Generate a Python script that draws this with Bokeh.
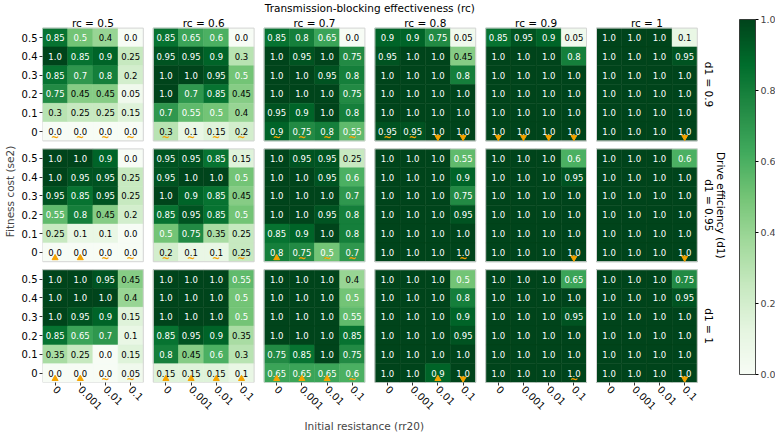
import numpy as np
from bokeh.plotting import figure
from bokeh.models import (ColumnDataSource, LinearColorMapper, ColorBar, FixedTicker,
                          PrintfTickFormatter, Title, Range1d)
from bokeh.core.properties import value
from bokeh.embed import file_html
from bokeh.resources import INLINE

# ---------------- data ----------------
rc_labels = ["rc = 0.5", "rc = 0.6", "rc = 0.7", "rc = 0.8", "rc = 0.9", "rc = 1"]
d1_labels = ["d1 = 0.9", "d1 = 0.95", "d1 = 1"]
se2_labels = ["0.5", "0.4", "0.3", "0.2", "0.1", "0"]          # rows, top to bottom
rr20_labels = ["0", "0.001", "0.01", "0.1"]                     # columns

# d1 = 0.9
d090_rc05 = [[0.85, 0.5, 0.4, 0.0], [1.0, 0.85, 0.9, 0.25], [0.85, 0.7, 0.8, 0.2],
             [0.75, 0.45, 0.45, 0.05], [0.3, 0.25, 0.25, 0.15], [0.0, 0.0, 0.0, 0.0]]
d090_rc06 = [[0.85, 0.65, 0.6, 0.0], [0.95, 0.95, 0.9, 0.3], [1.0, 1.0, 0.95, 0.5],
             [1.0, 0.7, 0.85, 0.45], [0.7, 0.55, 0.5, 0.4], [0.3, 0.1, 0.15, 0.2]]
d090_rc07 = [[0.85, 0.8, 0.65, 0.0], [1.0, 0.95, 1.0, 0.75], [1.0, 1.0, 0.95, 0.8],
             [1.0, 1.0, 1.0, 0.75], [0.95, 0.9, 1.0, 0.8], [0.9, 0.75, 0.8, 0.55]]
d090_rc08 = [[0.9, 0.9, 0.75, 0.05], [0.95, 1.0, 1.0, 0.45], [1.0, 1.0, 1.0, 0.8],
             [1.0, 1.0, 1.0, 1.0], [1.0, 1.0, 1.0, 1.0], [0.95, 0.95, 1.0, 1.0]]
d090_rc09 = [[0.85, 0.95, 0.9, 0.05], [1.0, 1.0, 1.0, 0.8], [1.0, 1.0, 1.0, 1.0],
             [1.0, 1.0, 1.0, 1.0], [1.0, 1.0, 1.0, 1.0], [1.0, 1.0, 1.0, 1.0]]
d090_rc10 = [[1.0, 1.0, 1.0, 0.1], [1.0, 1.0, 1.0, 0.95], [1.0, 1.0, 1.0, 1.0],
             [1.0, 1.0, 1.0, 1.0], [1.0, 1.0, 1.0, 1.0], [1.0, 1.0, 1.0, 1.0]]
# d1 = 0.95
d095_rc05 = [[1.0, 1.0, 0.9, 0.0], [1.0, 0.95, 0.95, 0.25], [0.95, 0.85, 0.95, 0.25],
             [0.55, 0.8, 0.45, 0.2], [0.25, 0.1, 0.1, 0.0], [0.0, 0.0, 0.0, 0.0]]
d095_rc06 = [[0.95, 0.95, 0.85, 0.15], [0.95, 1.0, 1.0, 0.5], [1.0, 0.9, 0.85, 0.45],
             [0.85, 0.95, 0.85, 0.5], [0.5, 0.75, 0.35, 0.25], [0.2, 0.1, 0.1, 0.25]]
d095_rc07 = [[1.0, 0.95, 0.95, 0.25], [1.0, 1.0, 0.95, 0.6], [1.0, 1.0, 1.0, 0.7],
             [1.0, 1.0, 0.95, 0.8], [0.85, 0.9, 1.0, 0.8], [0.8, 0.75, 0.5, 0.7]]
d095_rc08 = [[1.0, 1.0, 1.0, 0.55], [1.0, 1.0, 1.0, 0.9], [1.0, 1.0, 1.0, 0.75],
             [1.0, 1.0, 1.0, 0.95], [1.0, 1.0, 1.0, 1.0], [1.0, 1.0, 1.0, 1.0]]
d095_rc09 = [[1.0, 1.0, 1.0, 0.6], [1.0, 1.0, 1.0, 0.95], [1.0, 1.0, 1.0, 1.0],
             [1.0, 1.0, 1.0, 1.0], [1.0, 1.0, 1.0, 1.0], [1.0, 1.0, 1.0, 1.0]]
d095_rc10 = [[1.0, 1.0, 1.0, 0.6], [1.0, 1.0, 1.0, 1.0], [1.0, 1.0, 1.0, 1.0],
             [1.0, 1.0, 1.0, 1.0], [1.0, 1.0, 1.0, 1.0], [1.0, 1.0, 1.0, 1.0]]
# d1 = 1
d100_rc05 = [[1.0, 1.0, 0.95, 0.45], [1.0, 1.0, 1.0, 0.4], [1.0, 0.95, 0.9, 0.15],
             [0.85, 0.65, 0.7, 0.1], [0.35, 0.25, 0.0, 0.15], [0.0, 0.0, 0.0, 0.05]]
d100_rc06 = [[1.0, 1.0, 1.0, 0.55], [1.0, 1.0, 1.0, 0.5], [1.0, 1.0, 1.0, 0.5],
             [0.85, 0.95, 0.9, 0.35], [0.8, 0.45, 0.6, 0.3], [0.15, 0.15, 0.15, 0.1]]
d100_rc07 = [[1.0, 1.0, 1.0, 0.4], [1.0, 1.0, 1.0, 0.5], [1.0, 1.0, 1.0, 0.55],
             [1.0, 1.0, 1.0, 0.85], [0.75, 0.85, 1.0, 0.75], [0.65, 0.65, 0.65, 0.6]]
d100_rc08 = [[1.0, 1.0, 1.0, 0.5], [1.0, 1.0, 1.0, 0.8], [1.0, 1.0, 1.0, 0.9],
             [1.0, 1.0, 1.0, 0.95], [1.0, 1.0, 1.0, 1.0], [1.0, 1.0, 0.9, 1.0]]
d100_rc09 = [[1.0, 1.0, 1.0, 0.65], [1.0, 1.0, 1.0, 1.0], [1.0, 1.0, 1.0, 0.95],
             [1.0, 1.0, 1.0, 1.0], [1.0, 1.0, 1.0, 1.0], [1.0, 1.0, 1.0, 1.0]]
d100_rc10 = [[1.0, 1.0, 1.0, 0.75], [1.0, 1.0, 1.0, 0.95], [1.0, 1.0, 1.0, 1.0],
             [1.0, 1.0, 1.0, 1.0], [1.0, 1.0, 1.0, 1.0], [1.0, 1.0, 1.0, 1.0]]

# markers on the se2 = 0 row: "^" up, "v" down, "~" tilde, "" none
marks_d090 = [["~", "~", "~", "~"], ["~", "~", "~", "~"], ["~", "~", "~", "~"],
              ["~", "~", "v", "v"], ["v", "v", "v", "v"], ["", "", "", "v"]]
marks_d095 = [["^", "^", "~", "~"], ["~", "~", "~", "~"], ["^", "~", "~", "~"],
              ["", "", "", "~"], ["", "", "", "v"], ["", "", "", "v"]]
marks_d100 = [["^", "^", "~", "~"], ["^", "^", "^", "^"], ["^", "^", "^", "~"],
              ["", "", "^", "v"], ["", "", "", "~"], ["", "", "", "v"]]

grids = [[d090_rc05, d090_rc06, d090_rc07, d090_rc08, d090_rc09, d090_rc10],
         [d095_rc05, d095_rc06, d095_rc07, d095_rc08, d095_rc09, d095_rc10],
         [d100_rc05, d100_rc06, d100_rc07, d100_rc08, d100_rc09, d100_rc10]]
marks = [marks_d090, marks_d095, marks_d100]

# ---------------- palette (matplotlib Greens) ----------------
GREENS9 = ["#f7fcf5", "#e5f5e0", "#c7e9c0", "#a1d99b", "#74c476",
           "#41ab5d", "#238b45", "#006d2c", "#00441b"]
rgb = np.array([[int(h[k:k + 2], 16) for k in (1, 3, 5)] for h in GREENS9], float)
pos = np.linspace(0, 1, len(GREENS9))
tt = np.linspace(0, 1, 256)
palette = ["#%02x%02x%02x" % tuple(int(round(np.interp(t, pos, rgb[:, k]))) for k in range(3))
           for t in tt]
mapper = LinearColorMapper(palette=palette, low=0, high=1)

# ---------------- layout (cell units) ----------------
PW, PH = 4, 6
CELL_W, CELL_H = 25.2, 18.8
GX, GY = 10 / 25.2, 8 / 18.8
FW, FH = 708, 382

def px0(j):
    return j * (PW + GX)

def py0(i):
    return (2 - i) * (PH + GY)

xs, ys, vals, txts, tcols = [], [], [], [], []
up_x, up_y, dn_x, dn_y, tl_x, tl_y = [], [], [], [], [], []
for i, row in enumerate(grids):
    for j, grid in enumerate(row):
        for r, line in enumerate(grid):
            for c, v in enumerate(line):
                v = float(v)
                xs.append(px0(j) + c + 0.5)
                ys.append(py0(i) + (PH - 1 - r) + 0.5)
                vals.append(v)
                txts.append(str(v))
                tcols.append("white" if v >= 0.5 else "black")
        for c, m in enumerate(marks[i][j]):
            mx = px0(j) + c + 0.5
            my = py0(i) + 0.5 - 0.3
            if m == "^":
                up_x.append(mx); up_y.append(my)
            elif m == "v":
                dn_x.append(mx); dn_y.append(my)
            elif m == "~":
                tl_x.append(mx); tl_y.append(my - 0.03)

src = ColumnDataSource(dict(x=xs, y=ys, v=vals, t=txts, tc=tcols))

p = figure(frame_width=FW, frame_height=FH,
           x_range=Range1d(0, FW / CELL_W), y_range=Range1d(0, FH / CELL_H),
           output_backend="svg", toolbar_location=None,
           min_border_left=0, min_border_right=25, min_border_top=0, min_border_bottom=0)
p.background_fill_color = "white"
p.outline_line_color = None
p.xgrid.visible = False
p.ygrid.visible = False

cmap_field = {"field": "v", "transform": mapper}
p.rect("x", "y", width=1, height=1, source=src, fill_color=cmap_field,
       line_color=cmap_field, line_width=0.5)
p.text("x", "y", text="t", source=src, text_color="tc", text_align="center",
       text_baseline="middle", text_font=value("DejaVu Sans"), text_font_size="8.5px")

# panel outlines
pcx = [px0(j) + PW / 2 for i in range(3) for j in range(6)]
pcy = [py0(i) + PH / 2 for i in range(3) for j in range(6)]
p.rect(pcx, pcy, width=PW, height=PH, fill_color=None, line_color="#d4d4d4", line_width=1)

# markers
ORANGE = "#f5a300"
p.scatter(up_x, up_y, marker="triangle", size=6, fill_color=ORANGE, line_color=ORANGE)
p.scatter(dn_x, dn_y, marker="inverted_triangle", size=6, fill_color=ORANGE, line_color=ORANGE)
p.text(tl_x, tl_y, text=["~"] * len(tl_x), text_color=ORANGE, text_align="center",
       text_baseline="middle", text_font=value("DejaVu Sans"), text_font_size="10px",
       text_font_style="bold")

# column (rc) labels and super title
top_y = py0(0) + PH
p.text([px0(j) + PW / 2 for j in range(6)], [top_y + 5 / CELL_H] * 6, text=rc_labels,
       text_align="center", text_baseline="alphabetic", text_color="black",
       text_font=value("DejaVu Sans"), text_font_size="10.5px")
p.text([(px0(5) + PW) / 2], [FH / CELL_H - 1 / CELL_H], text=["Transmission-blocking effectiveness (rc)"],
       text_align="center", text_baseline="top", text_color="black",
       text_font=value("DejaVu Sans"), text_font_size="10.5px")

# row (d1) labels on the right
right_x = px0(5) + PW
p.text([right_x + 0.45] * 3, [py0(i) + PH / 2 for i in range(3)], text=d1_labels,
       angle=-np.pi / 2, text_align="center", text_baseline="middle", text_color="black",
       text_font=value("DejaVu Sans"), text_font_size="10.5px")
p.text([right_x + 0.95], [py0(1) + PH / 2], text=["Drive efficiency (d1)"],
       angle=-np.pi / 2, text_align="center", text_baseline="middle", text_color="black",
       text_font=value("DejaVu Sans"), text_font_size="10.5px")

# axes
x_ticks = [px0(j) + c + 0.5 for j in range(6) for c in range(4)]
x_over = {px0(j) + c + 0.5: rr20_labels[c] for j in range(6) for c in range(4)}
y_ticks = [py0(i) + (PH - 1 - r) + 0.5 for i in range(3) for r in range(6)]
y_over = {py0(i) + (PH - 1 - r) + 0.5: se2_labels[r] for i in range(3) for r in range(6)}

p.xaxis.ticker = FixedTicker(ticks=x_ticks)
p.xaxis.major_label_overrides = x_over
p.xaxis.major_label_orientation = -np.pi / 4
p.yaxis.ticker = FixedTicker(ticks=y_ticks)
p.yaxis.major_label_overrides = y_over
for ax in (p.xaxis[0], p.yaxis[0]):
    ax.axis_line_color = None
    ax.major_tick_line_color = "#333333"
    ax.major_tick_out = 3
    ax.major_tick_in = 0
    ax.minor_tick_line_color = None
    ax.major_label_text_font = "DejaVu Sans"
    ax.major_label_text_font_size = "10px"
    ax.major_label_text_color = "black"
    ax.major_label_standoff = 2
p.yaxis.axis_label = "Fitness cost (se2)"
p.yaxis.axis_label_text_font = "DejaVu Sans"
p.yaxis.axis_label_text_font_size = "10.5px"
p.yaxis.axis_label_text_font_style = "normal"
p.yaxis.axis_label_standoff = 3

p.add_layout(Title(text="Initial resistance (rr20)", align="left", offset=262,
                   text_font="DejaVu Sans", text_font_size="10.5px",
                   text_font_style="normal", standoff=2), "below")

cb = ColorBar(color_mapper=mapper, ticker=FixedTicker(ticks=[0.0, 0.2, 0.4, 0.6, 0.8, 1.0]),
              formatter=PrintfTickFormatter(format="%.1f"), width=16, height=355,
              location=(697, 8), padding=0, margin=0, major_tick_in=0, major_tick_out=3,
              major_tick_line_color="black", label_standoff=2,
              major_label_text_font="DejaVu Sans", major_label_text_font_size="9.5px",
              bar_line_color="#222222", bar_line_width=0.8,
              background_fill_alpha=0, border_line_color=None)
p.add_layout(cb)

open("out.html", "w").write(file_html(p, INLINE))
